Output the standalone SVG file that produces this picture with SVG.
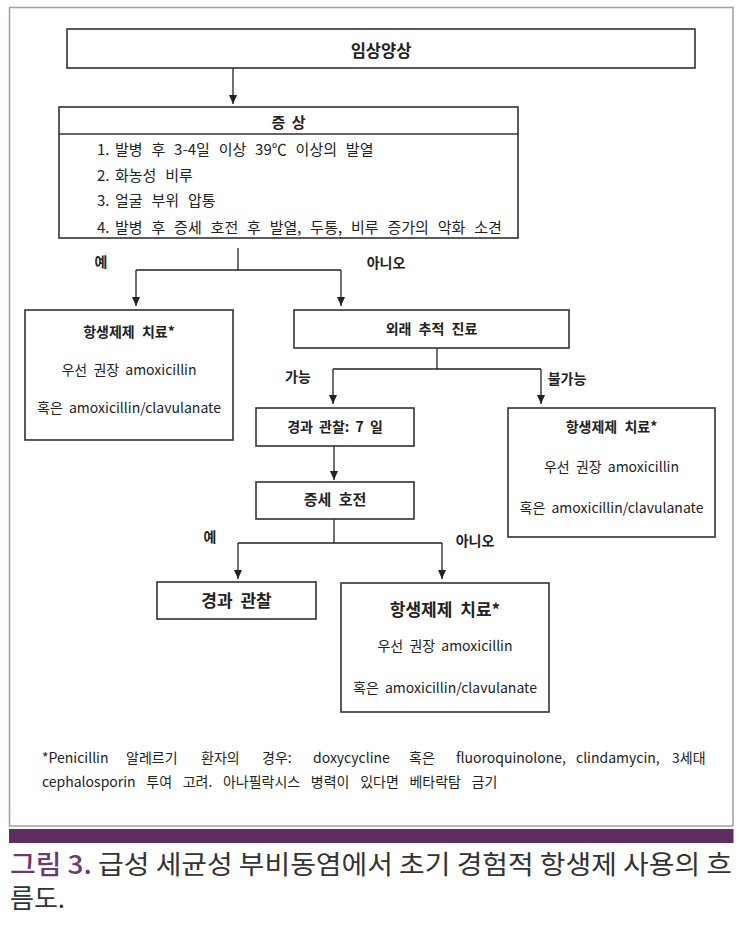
<svg xmlns="http://www.w3.org/2000/svg" width="740" height="925" viewBox="0 0 740 925">
<defs>
<style>
text{font-family:"Noto Sans CJK KR","Malgun Gothic","Noto Sans",sans-serif;fill:#222;}
.box{fill:#fff;stroke:#333;stroke-width:1.6;}
.t{font-size:14px;text-anchor:middle;}
.b{font-weight:bold;}
.lab{font-size:14px;font-weight:bold;text-anchor:middle;}
.li{font-size:15px;word-spacing:5.5px;}
.fn{font-size:14px;}
.con{fill:none;stroke:#222;stroke-width:1.3;}
.cap{font-size:26px;fill:#333;}
</style>
<marker id="ah" viewBox="0 0 9 8" refX="9" refY="4" markerWidth="9" markerHeight="8" markerUnits="userSpaceOnUse" orient="auto">
<path d="M0,0 L9,4 L0,8 z" fill="#222"/>
</marker>
</defs>
<rect width="740" height="925" fill="#fff"/>
<rect x="9.5" y="7.5" width="723.5" height="818.5" fill="none" stroke="#a898ad" stroke-width="1.5"/>
<rect x="9" y="829" width="724.5" height="14" fill="#5e2d62"/>

<g id="connectors">
<path class="con" d="M233,68 V104" marker-end="url(#ah)"/>
<path class="con" d="M238,248 V270 M136,270 H341"/>
<path class="con" d="M136,270 V306" marker-end="url(#ah)"/>
<path class="con" d="M341,270 V306" marker-end="url(#ah)"/>
<path class="con" d="M437,348 V369 M333,369 H541"/>
<path class="con" d="M333,369 V404" marker-end="url(#ah)"/>
<path class="con" d="M541,369 V404" marker-end="url(#ah)"/>
<path class="con" d="M334,446 V480" marker-end="url(#ah)"/>
<path class="con" d="M334,519 V543 M238,543 H442"/>
<path class="con" d="M238,543 V579" marker-end="url(#ah)"/>
<path class="con" d="M442,543 V579" marker-end="url(#ah)"/>
<text class="lab" x="101" y="267">예</text>
<text class="lab" x="386" y="268">아니오</text>
<text class="lab" x="298" y="382">가능</text>
<text class="lab" x="567" y="384">불가능</text>
<text class="lab" x="210" y="542">예</text>
<text class="lab" x="475" y="546">아니오</text>
</g>

<g id="clinical">
<rect class="box" x="67" y="29" width="628" height="39"/>
<text class="t b" x="381" y="57" style="font-size:16.5px">임상양상</text>
</g>

<g id="symptoms">
<rect class="box" x="59" y="107" width="459" height="131"/>
<line x1="59" y1="134" x2="518" y2="134" stroke="#333" stroke-width="1.6"/>
<text class="t b" x="288.5" y="127.5" style="font-size:15px;word-spacing:3px">증 상</text>
<text class="li" x="97" y="154.5">1.</text><text class="li" x="115" y="154.5">발병 후 3-4일 이상 39℃ 이상의 발열</text>
<text class="li" x="97" y="180.5">2.</text><text class="li" x="115" y="180.5">화농성 비루</text>
<text class="li" x="97" y="206">3.</text><text class="li" x="115" y="206">얼굴 부위 압통</text>
<text class="li" x="97" y="232.5">4.</text><text class="li" x="115" y="232.5">발병 후 증세 호전 후 발열, 두통, 비루 증가의 악화 소견</text>
</g>

<g id="abx-left">
<rect class="box" x="25" y="310" width="208" height="130"/>
<text class="t b" x="129" y="337" style="word-spacing:4px">항생제제 치료*</text>
<text class="t" x="129" y="375" style="word-spacing:3px">우선 권장 amoxicillin</text>
<text class="t" x="129" y="413" style="word-spacing:3px">혹은 amoxicillin/clavulanate</text>
</g>

<g id="followup">
<rect class="box" x="294" y="310" width="275" height="38"/>
<text class="t b" x="431.5" y="334" style="word-spacing:4px">외래 추적 진료</text>
</g>

<g id="observe7">
<rect class="box" x="256" y="408" width="158" height="38"/>
<text class="t b" x="335" y="432" style="word-spacing:3px">경과 관찰: 7 일</text>
</g>

<g id="abx-right">
<rect class="box" x="508" y="408" width="207" height="129"/>
<text class="t b" x="611.5" y="432" style="word-spacing:4px">항생제제 치료*</text>
<text class="t" x="611.5" y="472" style="word-spacing:3px">우선 권장 amoxicillin</text>
<text class="t" x="611.5" y="513" style="word-spacing:3px">혹은 amoxicillin/clavulanate</text>
</g>

<g id="improved">
<rect class="box" x="256" y="482" width="158" height="37"/>
<text class="t b" x="335" y="505" style="font-size:15px;word-spacing:4px">증세 호전</text>
</g>

<g id="observe">
<rect class="box" x="157" y="582" width="159" height="37"/>
<text class="t b" x="236.5" y="607" style="font-size:17px;word-spacing:4px">경과 관찰</text>
</g>

<g id="abx-bottom">
<rect class="box" x="341" y="583" width="208" height="129"/>
<text class="t b" x="445" y="616" style="font-size:17px;word-spacing:4px">항생제제 치료*</text>
<text class="t" x="445" y="651" style="word-spacing:3px">우선 권장 amoxicillin</text>
<text class="t" x="445" y="693" style="word-spacing:3px">혹은 amoxicillin/clavulanate</text>
</g>

<g id="footnote">
<text class="fn" y="763"><tspan x="42">*Penicillin</tspan><tspan x="126">알레르기</tspan><tspan x="201">환자의</tspan><tspan x="262">경우:</tspan><tspan x="313">doxycycline</tspan><tspan x="409">혹은</tspan><tspan x="456">fluoroquinolone,</tspan><tspan x="576">clindamycin,</tspan><tspan x="672">3세대</tspan></text>
<text class="fn" x="42" y="787" style="word-spacing:7.5px">cephalosporin 투여 고려. 아나필락시스 병력이 있다면 베타락탐 금기</text>
</g>

<g id="caption">
<text class="cap" x="10" y="874" textLength="722" lengthAdjust="spacingAndGlyphs"><tspan style="fill:#6b3a72;font-weight:500">그림 3.</tspan> 급성 세균성 부비동염에서 초기 경험적 항생제 사용의 흐</text>
<text class="cap" x="10" y="908">름도.</text>
</g>
</svg>
